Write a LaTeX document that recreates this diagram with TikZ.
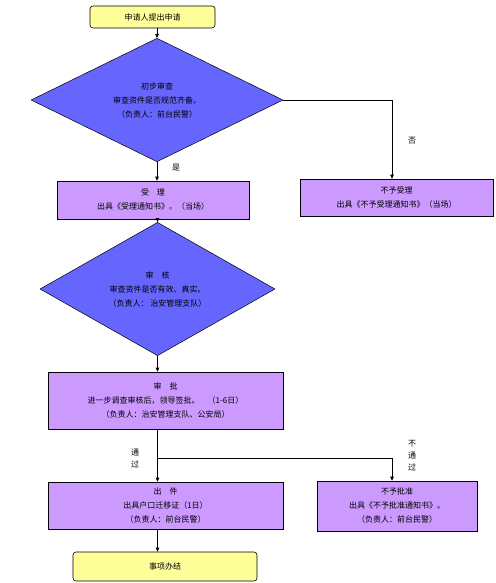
\documentclass[tikz,border=0pt]{standalone}
\usepackage{fontspec}
\newfontfamily\cjk{Noto Sans CJK SC}
\usetikzlibrary{shapes.geometric,arrows.meta}
\definecolor{pale}{HTML}{FFFF99}
\definecolor{lilac}{HTML}{CC99FF}
\definecolor{violet}{HTML}{6666FF}
\tikzset{
    txt/.style={font=\cjk\fontsize{8}{14}\selectfont,align=center,inner sep=0pt},
    endbox/.style={txt,draw,fill=pale,rounded corners=3pt,line width=0.6pt},
    workbox/.style={txt,draw,fill=lilac,line width=0.6pt},
    askbox/.style={txt,draw,fill=violet,shape=diamond,line width=0.5pt},
    arr/.style={-{Triangle[length=4pt,width=3.5pt]},line width=0.6pt},
    vlab/.style={font=\cjk\fontsize{8}{12}\selectfont,align=center,inner sep=0pt}
}
\begin{document}
\begin{tikzpicture}[x=1pt,y=-1pt]
            \useasboundingbox (0,0) rectangle (495,583);
            \node[endbox,minimum width=125pt,minimum height=22pt] (start) at (152.5,17) {申请人提出申请};
            \node[askbox,minimum width=252pt,minimum height=114pt] (chk1) at (157,100) {初步审查\\审查资件是否规范齐备。\\（负责人：前台民警）};
            \node[workbox,minimum width=192pt,minimum height=38pt] (acc) at (153,200) {受\quad 理\\出具《受理通知书》。（当场）};
            \node[workbox,minimum width=193pt,minimum height=37pt] (rej1) at (396.5,197.5) {不予受理\\出具《不予受理通知书》（当场）};
            \node[askbox,minimum width=235pt,minimum height=102pt] (chk2) at (157.5,289) {审\quad 核\\审查资件是否有效、真实。\\（负责人：\ 治安管理支队）};
            \node[workbox,minimum width=235pt,minimum height=57pt] (appr) at (165.5,400.5) {审\quad 批\\进一步调查审核后，领导签批。\quad （1-6日）\\（负责人：治安管理支队、公安局）};
            \node[workbox,minimum width=235pt,minimum height=47pt] (issue) at (165.5,505.5) {出\quad 件\\出具户口迁移证（1日）\\（负责人：前台民警）};
            \node[workbox,minimum width=160pt,minimum height=50pt] (rej2) at (397,506) {不予批准\\出具《不予批准通知书》。\\（负责人：前台民警）};
            \node[endbox,minimum width=184pt,minimum height=29pt] (done) at (165,566.5) {事项办结};
            \node[vlab] (yes) at (176,168) {是};
            \node[vlab] (no) at (412,141) {否};
            \node[vlab] (pass) at (135,458) {通\\过};
            \node[vlab] (fail) at (412,456) {不\\通\\过};
            \coordinate (split) at (157.5,458);
            \draw[arr] (start.south -| chk1.north) -- (chk1.north);
            \draw[arr] (chk1.south) -- (chk1.south |- acc.north);
            \draw[arr] (chk1.east) -| ([xshift=-4.5pt]rej1.north);
            \draw[arr] (acc.south -| chk2.north) -- (chk2.north);
            \draw[arr] (chk2.south) -- (chk2.south |- appr.north);
            \draw[arr] (appr.south -| split) -- (split |- issue.north);
            \draw[arr] (split) -| ([xshift=-5pt]rej2.north);
            \draw[arr] (issue.south -| split) -- (split |- done.north);
        \end{tikzpicture}
\end{document}
